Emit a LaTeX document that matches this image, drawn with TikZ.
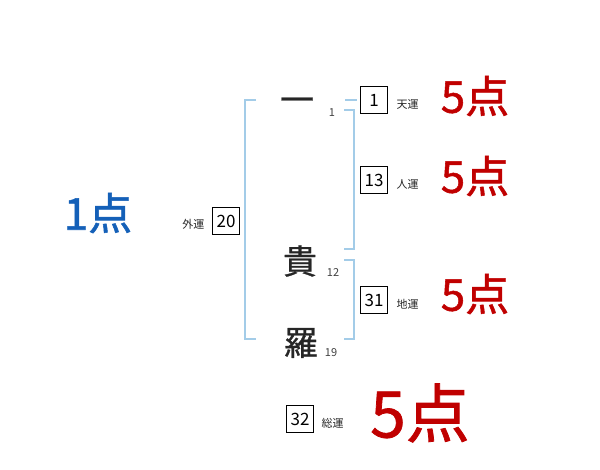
\documentclass[tikz,border=0pt]{standalone}
\usepackage{fontspec}
\setmainfont{Noto Sans CJK JP}
\newfontfamily\scorefont[FakeBold=1.2]{Noto Sans CJK JP}
\newfontfamily\kanjifont[FakeBold=0.8]{Noto Sans CJK JP}
\definecolor{brk}{HTML}{A3CCE8}
\definecolor{pred}{HTML}{C00000}
\definecolor{pblue}{HTML}{1460B8}
\begin{document}
\begin{tikzpicture}[x=1pt,y=-1pt,
  brack/.style={draw=brk,line width=1.6pt},
  numbox/.style={draw=black,line width=0.6pt,inner sep=0pt,minimum width=27pt,minimum height=27pt,font=\fontsize{17}{17}\selectfont},
  unlabel/.style={font=\fontsize{11}{11}\selectfont,text=black!85},
  kanji/.style={font=\fontsize{34}{34}\kanjifont,text=black!85},
  stroke/.style={font=\fontsize{11}{11}\selectfont,text=black!75},
  score/.style={font=\fontsize{44}{44}\scorefont,text=pred},
]
\useasboundingbox (0,0) rectangle (600,470);
% left bracket
\coordinate (lt) at (256,100);
\coordinate (lb) at (256,339);
\draw[brack] (lt) -- (245,100) -- (245,339) -- (lb);
% top tick
\coordinate (t1) at (345,100);
\coordinate (t2) at (357,100);
\draw[brack] (t1) -- (t2);
% jin bracket
\draw[brack] (344,110) -- (354,110) -- (354,249) -- (344,249);
% chi bracket
\draw[brack] (344,260) -- (354,260) -- (354,339) -- (344,339);
% kanji
\node[kanji] (k1) at (297,105) {一};
\node[kanji] (k2) at (300,261) {貴};
\node[kanji] (k3) at (301,343) {羅};
\node[stroke] (s1) at (332,113) {1};
\node[stroke] (s2) at (333,273) {12};
\node[stroke] (s3) at (331,353) {19};
% gaiun
\node[numbox] (b20) at (226,221) {20};
\node[unlabel,anchor=east] (l20) at (208,224) {外運};
% right boxes
\node[numbox] (b1) at (374,100) {1};
\node[unlabel,anchor=west] (l1) at (393,104) {天運};
\node[numbox] (b13) at (374,180) {13};
\node[unlabel,anchor=west] (l13) at (393,184) {人運};
\node[numbox] (b31) at (374,300) {31};
\node[unlabel,anchor=west] (l31) at (393,304) {地運};
\node[numbox] (b32) at (300,419) {32};
\node[unlabel,anchor=west] (l32) at (318,423) {総運};
% scores
\node[score] (p1) at (475,96) {5点};
\node[score] (p13) at (475,176) {5点};
\node[score] (p31) at (475,294) {5点};
\node[font=\fontsize{64}{64}\scorefont,text=pred] (p32) at (420,413) {5点};
\node[score,text=pblue] (pg) at (98,213) {1点};
\end{tikzpicture}
\end{document}
